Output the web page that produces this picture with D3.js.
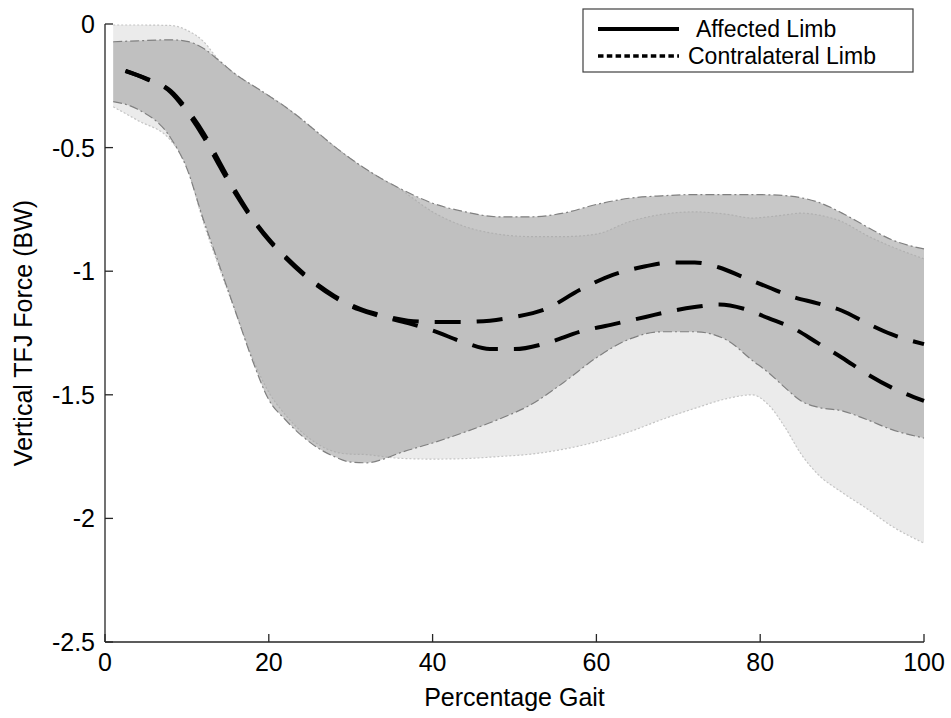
<!DOCTYPE html>
<html>
<head>
<meta charset="utf-8">
<script src="https://cdn.jsdelivr.net/npm/d3@7.9.0/dist/d3.min.js"></script>
<style>
  body { margin: 0; background: #fff; }
  svg { display: block; font-family: "Liberation Sans", Arial, sans-serif; }
  .tick-label { font-size: 25px; fill: #000; }
  .axis-title { font-size: 25px; fill: #000; }
  .legend-text { font-size: 23px; fill: #000; }
</style>
</head>
<body>
<svg id="chart" width="951" height="718"></svg>
<script>
// percentage gait samples shared by both SD bands
const bandX = [1, 4, 8, 10, 12, 14, 16, 18, 20, 22, 24, 26, 28, 30, 32, 34, 36, 40, 44, 48,
  52, 56, 60, 64, 68, 72, 76, 79, 81, 83, 85, 87, 90, 93, 96, 100];

// band with dash-dot edges (darker)
const darkTop = [-0.072, -0.068, -0.064, -0.07, -0.098, -0.15, -0.205, -0.248, -0.29, -0.335,
  -0.385, -0.44, -0.495, -0.545, -0.59, -0.63, -0.665, -0.725, -0.76, -0.78,
  -0.78, -0.765, -0.73, -0.705, -0.695, -0.69, -0.69, -0.69, -0.691, -0.694, -0.703, -0.72, -0.765, -0.82, -0.872, -0.91];
const darkBottom = [-0.314, -0.345, -0.46, -0.585, -0.79, -0.98, -1.17, -1.36, -1.52, -1.6,
  -1.665, -1.715, -1.75, -1.772, -1.775, -1.76, -1.735, -1.695, -1.65, -1.6,
  -1.54, -1.45, -1.35, -1.275, -1.245, -1.245, -1.28, -1.36, -1.41, -1.47, -1.525, -1.55, -1.565, -1.6, -1.64, -1.675];

// band with dotted edges (lighter)
const lightTop = [-0.004, -0.004, -0.006, -0.025, -0.07, -0.15, -0.205, -0.248, -0.29, -0.335,
  -0.385, -0.44, -0.495, -0.545, -0.59, -0.63, -0.668, -0.76, -0.82, -0.85,
  -0.86, -0.86, -0.85, -0.8, -0.77, -0.76, -0.77, -0.785, -0.78, -0.772, -0.765, -0.772, -0.8, -0.855, -0.9, -0.95];
const lightBottom = [-0.335, -0.39, -0.47, -0.58, -0.8, -0.99, -1.17, -1.35, -1.49, -1.58,
  -1.65, -1.7, -1.73, -1.74, -1.742, -1.75, -1.757, -1.76, -1.758, -1.75,
  -1.74, -1.72, -1.69, -1.65, -1.6, -1.555, -1.515, -1.5, -1.54, -1.63, -1.74, -1.82, -1.895, -1.96, -2.03, -2.1];

// mean curves
const meanX = [2.5, 5, 8, 10, 12, 14, 16, 18, 20, 22, 25, 28, 31, 34, 37, 40, 44, 47, 50, 54,
  58, 62, 66, 69, 72, 75, 78, 81, 84, 87, 90, 93, 96, 100];
const meanUpper = [-0.19, -0.22, -0.27, -0.345, -0.44, -0.56, -0.68, -0.785, -0.87, -0.94,
  -1.03, -1.1, -1.15, -1.18, -1.2, -1.205, -1.205, -1.2, -1.185, -1.15,
  -1.075, -1.015, -0.98, -0.965, -0.965, -0.985, -1.025, -1.065, -1.104, -1.13, -1.16, -1.21, -1.255, -1.295];
const meanLower = [-0.19, -0.222, -0.275, -0.355, -0.455, -0.575, -0.69, -0.79, -0.875, -0.945,
  -1.035, -1.105, -1.155, -1.185, -1.21, -1.24, -1.29, -1.315, -1.315, -1.29,
  -1.245, -1.215, -1.185, -1.162, -1.145, -1.135, -1.152, -1.19, -1.23, -1.29, -1.35, -1.415, -1.47, -1.525];

const xTicks = [0, 20, 40, 60, 80, 100];
const yTicks = [0, -0.5, -1, -1.5, -2, -2.5];
const legendLabels = ['Affected Limb', 'Contralateral Limb'];

const svg = d3.select('#chart');
const plotLeft = 105, plotRight = 924, plotTop = 24, plotBottom = 642;

const x = d3.scaleLinear().domain([0, 100]).range([plotLeft, plotRight]);
const y = d3.scaleLinear().domain([-2.5, 0]).range([plotBottom, plotTop]);

function band(topVals, bottomVals) {
  return d3.area()
    .x((d, i) => x(bandX[i]))
    .y0((d, i) => y(bottomVals[i]))
    .y1((d, i) => y(topVals[i]))
    .curve(d3.curveMonotoneX)(bandX);
}

function edge(xs, vals) {
  return d3.line()
    .x((d, i) => x(xs[i]))
    .y((d) => y(d))
    .curve(d3.curveMonotoneX)(vals);
}

// light band
svg.append('path').attr('d', band(lightTop, lightBottom)).attr('fill', '#ebebeb');
[lightTop, lightBottom].forEach((vals) => {
  svg.append('path')
    .attr('d', edge(bandX, vals))
    .attr('fill', 'none')
    .attr('stroke', '#c4c4c4')
    .attr('stroke-width', 1.2)
    .attr('stroke-dasharray', '2,2');
});

// darker band
svg.append('path').attr('d', band(darkTop, darkBottom)).attr('fill', 'rgb(163,163,163)').attr('fill-opacity', 0.6);
[darkTop, darkBottom].forEach((vals) => {
  svg.append('path')
    .attr('d', edge(bandX, vals))
    .attr('fill', 'none')
    .attr('stroke', '#808080')
    .attr('stroke-width', 1.2)
    .attr('stroke-dasharray', '9,3,2,3');
});

[meanUpper, meanLower].forEach((vals) => {
  svg.append('path')
    .attr('d', edge(meanX, vals))
    .attr('fill', 'none')
    .attr('stroke', '#000')
    .attr('stroke-width', 4)
    .attr('stroke-dasharray', '26,16');
});

// axes
const axisColor = '#262626';
svg.append('line').attr('x1', plotLeft).attr('x2', plotLeft).attr('y1', plotTop).attr('y2', plotBottom)
  .attr('stroke', axisColor).attr('stroke-width', 1.3);
svg.append('line').attr('x1', plotLeft).attr('x2', plotRight).attr('y1', plotBottom).attr('y2', plotBottom)
  .attr('stroke', axisColor).attr('stroke-width', 1.3);

xTicks.forEach((t) => {
  svg.append('line').attr('x1', x(t)).attr('x2', x(t)).attr('y1', plotBottom).attr('y2', plotBottom - 8)
    .attr('stroke', axisColor).attr('stroke-width', 1.3);
  svg.append('text').attr('class', 'tick-label')
    .attr('x', x(t)).attr('y', plotBottom + 29)
    .attr('text-anchor', 'middle')
    .text(t);
});

yTicks.forEach((t) => {
  svg.append('line').attr('x1', plotLeft).attr('x2', plotLeft + 8).attr('y1', y(t)).attr('y2', y(t))
    .attr('stroke', axisColor).attr('stroke-width', 1.3);
  svg.append('text').attr('class', 'tick-label')
    .attr('x', plotLeft - 10).attr('y', y(t) + 9)
    .attr('text-anchor', 'end')
    .text(t);
});

svg.append('text').attr('class', 'axis-title')
  .attr('x', x(50)).attr('y', 706)
  .attr('text-anchor', 'middle')
  .text('Percentage Gait');

svg.append('text').attr('class', 'axis-title')
  .attr('transform', `translate(32,${(plotTop + plotBottom) / 2}) rotate(-90)`)
  .attr('text-anchor', 'middle')
  .text('Vertical TFJ Force (BW)');

// legend
const legend = svg.append('g');
legend.append('rect')
  .attr('x', 583).attr('y', 9).attr('width', 330).attr('height', 63)
  .attr('fill', '#fff').attr('stroke', '#404040').attr('stroke-width', 1.2);

legendLabels.forEach((label, idx) => {
  let ly = 29 + idx * 27;
  legend.append('line')
    .attr('x1', 598).attr('x2', 679).attr('y1', ly).attr('y2', ly)
    .attr('stroke', '#000')
    .attr('stroke-width', idx === 0 ? 4 : 3.5)
    .attr('stroke-dasharray', idx === 0 ? null : '5.5,3.3');
  legend.append('text').attr('class', 'legend-text')
    .attr('x', idx === 0 ? 696 : 688).attr('y', ly + 8)
    .text(label);
});
</script>
</body>
</html>
